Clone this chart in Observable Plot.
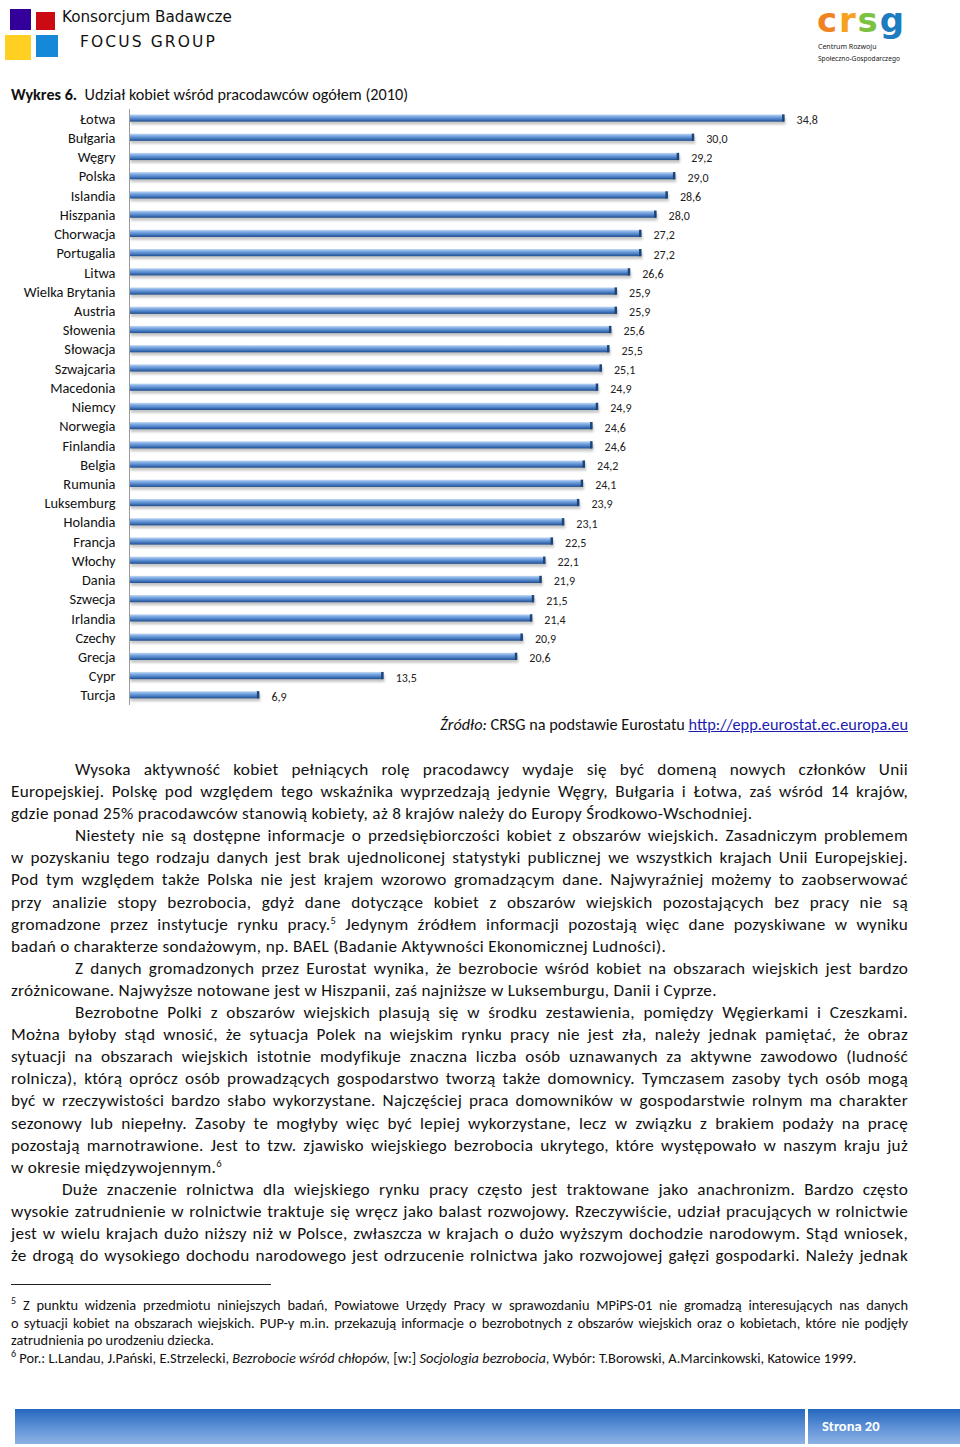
<!DOCTYPE html>
<html lang="pl">
<head>
<meta charset="utf-8">
<script src="https://cdn.jsdelivr.net/npm/d3@7"></script>
<script src="https://cdn.jsdelivr.net/npm/@observablehq/plot@0.6"></script>
<style>
  html, body { margin: 0; padding: 0; background: #fff; }
  body { width: 960px; height: 1447px; position: relative; overflow: hidden;
         font-family: Carlito, Calibri, Lato, "Noto Sans", sans-serif; color: #111; }
  .abs { position: absolute; }
  .line { height: 22.1px; line-height: 22.1px; white-space: nowrap; }
  .j { text-align: justify; text-align-last: justify; }
  .body-text { left: 11px; width: 897px; top: 759px; font-size: 17.2px; letter-spacing: 0.3px; }
  .fn { left: 11px; width: 897px; top: 1297px; font-size: 14.4px; }
  .fn .line { height: 17.5px; line-height: 17.5px; }
  sup { font-size: 0.62em; line-height: 0; vertical-align: 0.6em; }
  .fn sup { font-size: 0.7em; }
</style>
</head>
<body>
<!-- header: Focus Group logo -->
<div class="abs" style="left:10px;top:9px;width:21px;height:21px;background:#330099"></div>
<div class="abs" style="left:36px;top:12px;width:19px;height:18px;background:#cc0a14"></div>
<div class="abs" style="left:5px;top:35px;width:26px;height:25px;background:#ffcf21"></div>
<div class="abs" style="left:36px;top:35px;width:22px;height:22px;background:#1688d8"></div>
<div class="abs" style="left:62px;top:7px;font-size:15.2px;line-height:20px;font-family:'DejaVu Sans',sans-serif;color:#111;">Konsorcjum Badawcze</div>
<div class="abs" style="left:80px;top:32px;font-size:15.5px;line-height:20px;font-family:'DejaVu Sans',sans-serif;color:#111;letter-spacing:2.1px">FOCUS GROUP</div>

<!-- header: CRSG logo -->
<svg class="abs" style="left:810px;top:0" width="150" height="66">
  <text x="7" y="32" font-family="'DejaVu Sans', sans-serif" font-weight="bold" font-size="34" textLength="87" lengthAdjust="spacing"><tspan fill="#f0831e">c</tspan><tspan fill="#f6a21d">r</tspan><tspan fill="#7cc242">s</tspan><tspan fill="#1d7cc0">g</tspan></text>
  <text x="8" y="49" font-family="'Noto Sans', sans-serif" font-size="7" fill="#222">Centrum Rozwoju</text>
  <text x="8" y="61" font-family="'Noto Sans', sans-serif" font-size="7" fill="#222" textLength="82" lengthAdjust="spacingAndGlyphs">Społeczno-Gospodarczego</text>
</svg>

<!-- title -->
<div class="abs" style="left:11px;top:84px;font-size:16.2px;line-height:22px"><b>Wykres 6.</b>&nbsp; Udział kobiet wśród pracodawców ogółem (2010)</div>

<div id="chart" class="abs" style="left:0;top:109.4px"></div>

<!-- source -->
<div class="abs" style="right:52px;top:713px;font-size:16.3px;line-height:22px"><i>Źródło:</i> CRSG na podstawie Eurostatu <span style="color:#1b1bb4;text-decoration:underline">http://epp.eurostat.ec.europa.eu</span></div>

<!-- body text -->
<div class="abs body-text">
  <div class="line j" style="padding-left:64px">Wysoka aktywność kobiet pełniących rolę pracodawcy wydaje się być domeną nowych członków Unii</div>
  <div class="line j">Europejskiej. Polskę pod względem tego wskaźnika wyprzedzają jedynie Węgry, Bułgaria i Łotwa, zaś wśród 14 krajów,</div>
  <div class="line">gdzie ponad 25% pracodawców stanowią kobiety, aż 8 krajów należy do Europy Środkowo-Wschodniej.</div>
  <div class="line j" style="padding-left:64px">Niestety nie są dostępne informacje o przedsiębiorczości kobiet z obszarów wiejskich. Zasadniczym problemem</div>
  <div class="line j">w pozyskaniu tego rodzaju danych jest brak ujednoliconej statystyki publicznej we wszystkich krajach Unii Europejskiej.</div>
  <div class="line j">Pod tym względem także Polska nie jest krajem wzorowo gromadzącym dane. Najwyraźniej możemy to zaobserwować</div>
  <div class="line j">przy analizie stopy bezrobocia, gdyż dane dotyczące kobiet z obszarów wiejskich pozostających bez pracy nie są</div>
  <div class="line j">gromadzone przez instytucje rynku pracy.<sup>5</sup> Jedynym źródłem informacji pozostają więc dane pozyskiwane w wyniku</div>
  <div class="line">badań o charakterze sondażowym, np. BAEL (Badanie Aktywności Ekonomicznej Ludności).</div>
  <div class="line j" style="padding-left:64px">Z danych gromadzonych przez Eurostat wynika, że bezrobocie wśród kobiet na obszarach wiejskich jest bardzo</div>
  <div class="line">zróżnicowane. Najwyższe notowane jest w Hiszpanii, zaś najniższe w Luksemburgu, Danii i Cyprze.</div>
  <div class="line j" style="padding-left:64px">Bezrobotne Polki z obszarów wiejskich plasują się w środku zestawienia, pomiędzy Węgierkami i Czeszkami.</div>
  <div class="line j">Można byłoby stąd wnosić, że sytuacja Polek na wiejskim rynku pracy nie jest zła, należy jednak pamiętać, że obraz</div>
  <div class="line j">sytuacji na obszarach wiejskich istotnie modyfikuje znaczna liczba osób uznawanych za aktywne zawodowo (ludność</div>
  <div class="line j">rolnicza), którą oprócz osób prowadzących gospodarstwo tworzą także domownicy. Tymczasem zasoby tych osób mogą</div>
  <div class="line j">być w rzeczywistości bardzo słabo wykorzystane. Najczęściej praca domowników w gospodarstwie rolnym ma charakter</div>
  <div class="line j">sezonowy lub niepełny. Zasoby te mogłyby więc być lepiej wykorzystane, lecz w związku z brakiem podaży na pracę</div>
  <div class="line j">pozostają marnotrawione. Jest to tzw. zjawisko wiejskiego bezrobocia ukrytego, które występowało w naszym kraju już</div>
  <div class="line">w okresie międzywojennym.<sup>6</sup></div>
  <div class="line j" style="padding-left:51px">Duże znaczenie rolnictwa dla wiejskiego rynku pracy często jest traktowane jako anachronizm. Bardzo często</div>
  <div class="line j">wysokie zatrudnienie w rolnictwie traktuje się wręcz jako balast rozwojowy. Rzeczywiście, udział pracujących w rolnictwie</div>
  <div class="line j">jest w wielu krajach dużo niższy niż w Polsce, zwłaszcza w krajach o dużo wyższym dochodzie narodowym. Stąd wniosek,</div>
  <div class="line j">że drogą do wysokiego dochodu narodowego jest odrzucenie rolnictwa jako rozwojowej gałęzi gospodarki. Należy jednak</div>
</div>

<!-- footnotes -->
<div class="abs" style="left:11px;top:1284px;width:260px;height:1px;background:#222"></div>
<div class="abs fn">
  <div class="line j"><sup>5</sup> Z punktu widzenia przedmiotu niniejszych badań, Powiatowe Urzędy Pracy w sprawozdaniu MPiPS-01 nie gromadzą interesujących nas danych</div>
  <div class="line j">o sytuacji kobiet na obszarach wiejskich. PUP-y m.in. przekazują informacje o bezrobotnych z obszarów wiejskich oraz o kobietach, które nie podjęły</div>
  <div class="line">zatrudnienia po urodzeniu dziecka.</div>
  <div class="line"><sup>6</sup> Por.: L.Landau, J.Pański, E.Strzelecki, <i>Bezrobocie wśród chłopów,</i> [w:] <i>Socjologia bezrobocia</i>, Wybór: T.Borowski, A.Marcinkowski, Katowice 1999.</div>
</div>

<!-- footer -->
<div class="abs" style="left:15px;top:1409px;width:790px;height:35px;background:linear-gradient(#2467bd,#5b8fd5 50%,#8db2e4)"></div>
<div class="abs" style="left:808px;top:1409px;width:152px;height:35px;background:linear-gradient(#2467bd,#5b8fd5 50%,#8db2e4)"></div>
<div class="abs" style="left:822px;top:1416px;font-size:14.5px;line-height:20px;font-weight:bold;color:#fff">Strona 20</div>

<script>
const countries = ["Łotwa","Bułgaria","Węgry","Polska","Islandia","Hiszpania","Chorwacja","Portugalia","Litwa","Wielka Brytania","Austria","Słowenia","Słowacja","Szwajcaria","Macedonia","Niemcy","Norwegia","Finlandia","Belgia","Rumunia","Luksemburg","Holandia","Francja","Włochy","Dania","Szwecja","Irlandia","Czechy","Grecja","Cypr","Turcja"];
const values = [34.8,30.0,29.2,29.0,28.6,28.0,27.2,27.2,26.6,25.9,25.9,25.6,25.5,25.1,24.9,24.9,24.6,24.6,24.2,24.1,23.9,23.1,22.5,22.1,21.9,21.5,21.4,20.9,20.6,13.5,6.9];

const data = countries.map((c, i) => ({country: c, value: values[i]}));
const fmt = v => v.toFixed(1).replace(".", ",");
const font = "Carlito, Calibri, Lato, 'Noto Sans', sans-serif";

const chart = Plot.plot({
  width: 960,
  height: 596,
  marginLeft: 129,
  marginRight: 78,
  marginTop: 0,
  marginBottom: 0,
  x: {domain: [0, 40], axis: null},
  y: {domain: countries, padding: 0, round: false, axis: null},
  style: {fontFamily: font, color: "#111", background: "transparent", overflow: "visible"},
  marks: [
    // shadow
    Plot.barX(data, {x: "value", y: "country", insetTop: 6.6, insetBottom: 5.2, fill: "#000", fillOpacity: 0.22, dx: 1.5, dy: 1.5}),
    // bar
    Plot.barX(data, {x: "value", y: "country", insetTop: 5.4, insetBottom: 6.6, fill: "url(#barGrad)"}),
    // dark end cap
    Plot.tickX(data, {x: "value", y: "country", insetTop: 5.4, insetBottom: 6.6, stroke: "#1d4478", strokeWidth: 2.5, dx: -1.25}),
    Plot.ruleX([0], {stroke: "#9a9a9a", strokeWidth: 1}),
    Plot.axisY({tickSize: 0, tickPadding: 14, label: null, fontSize: 14.4, textAnchor: "end"}),
    Plot.text(data, {x: "value", y: "country", text: d => fmt(d.value), dx: 12, dy: 1, textAnchor: "start", fontSize: 12, fill: "#222"})
  ]
});

const ns = "http://www.w3.org/2000/svg";
const defs = document.createElementNS(ns, "defs");
defs.innerHTML = `
  <linearGradient id="barGrad" x1="0" y1="0" x2="0" y2="1">
    <stop offset="0" stop-color="#c4daf5"/>
    <stop offset="0.3" stop-color="#7fabe2"/>
    <stop offset="0.65" stop-color="#4b7fc6"/>
    <stop offset="1" stop-color="#204d8c"/>
  </linearGradient>
  <filter id="soft" x="-5%" y="-100%" width="110%" height="300%">
    <feGaussianBlur stdDeviation="1"/>
  </filter>`;
chart.insertBefore(defs, chart.firstChild);
const bars = chart.querySelectorAll('g[aria-label="bar"]');
if (bars[0]) bars[0].setAttribute("filter", "url(#soft)");
document.getElementById("chart").appendChild(chart);
</script>
</body>
</html>
